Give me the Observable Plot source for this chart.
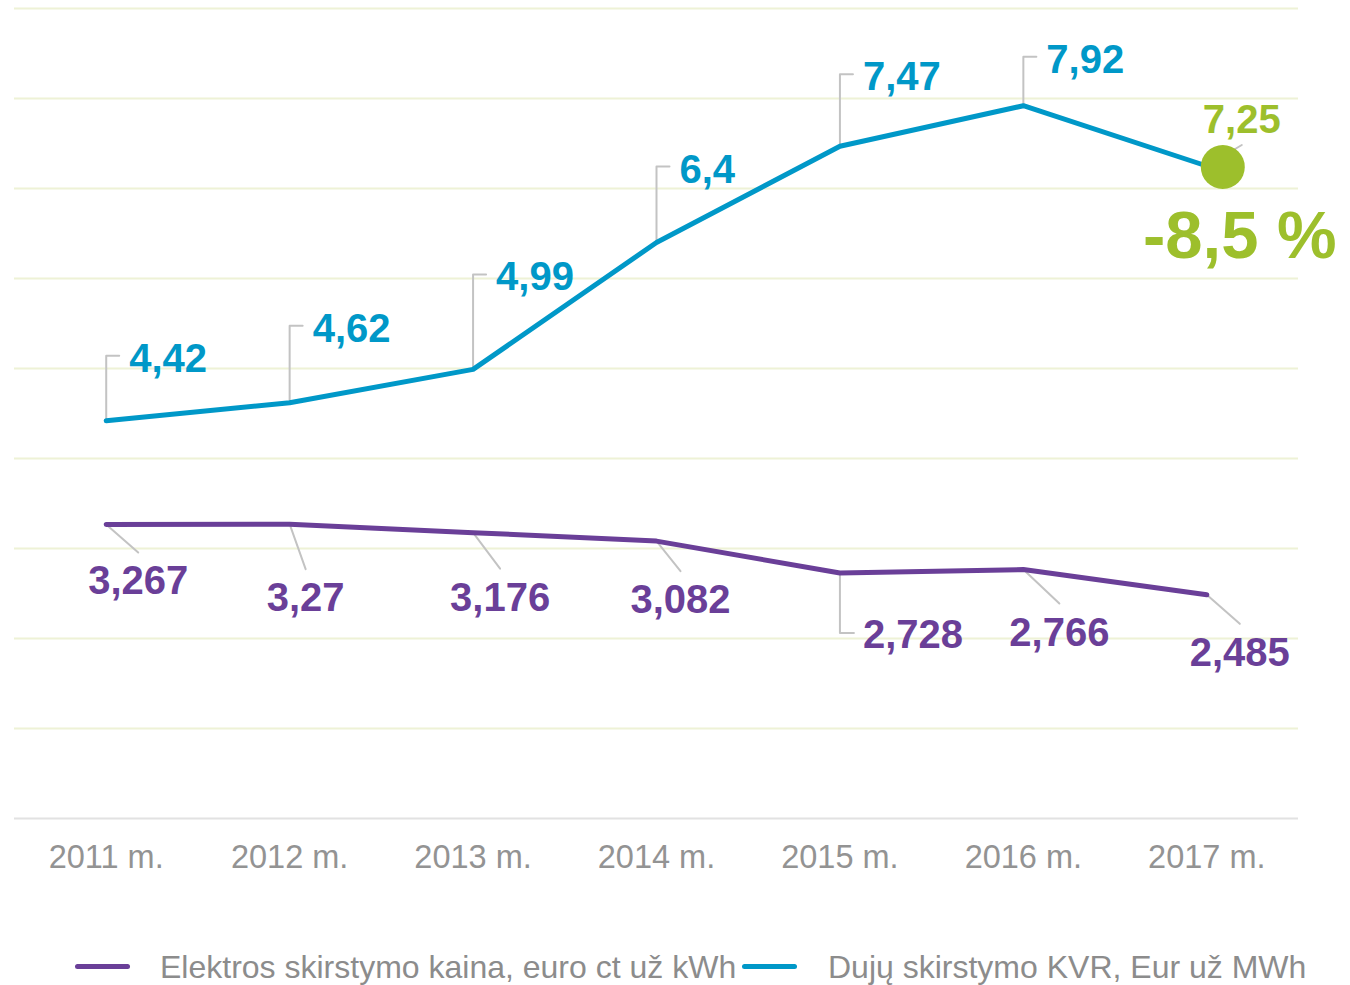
<!DOCTYPE html>
<html>
<head>
<meta charset="utf-8">
<script src="https://cdn.jsdelivr.net/npm/d3@7"></script>
<script src="https://cdn.jsdelivr.net/npm/@observablehq/plot@0.6"></script>
<style>
  html, body { margin: 0; padding: 0; background: #fff; }
  #chart { width: 1350px; }
  .legend { position: relative; width: 1350px; height: 55px; font-family: "Liberation Sans", Arial, sans-serif; }
  .legend .sw { position: absolute; top: 34px; width: 55px; height: 5px; border-radius: 3px; }
  .legend .lbl { position: absolute; top: 21px; font-size: 32px; line-height: 1; color: #8c8c8c; white-space: nowrap; }
</style>
</head>
<body>
<div id="chart"></div>
<script>
// ---- data ----
const years = [2011, 2012, 2013, 2014, 2015, 2016, 2017];
const tickLabels = ["2011 m.", "2012 m.", "2013 m.", "2014 m.", "2015 m.", "2016 m.", "2017 m."];
const gas = [4.42, 4.62, 4.99, 6.4, 7.47, 7.92, 7.25];
const gasLabels = ["4,42", "4,62", "4,99", "6,4", "7,47", "7,92", "7,25"];
const elec = [3.267, 3.27, 3.176, 3.082, 2.728, 2.766, 2.485];
const elecLabels = ["3,267", "3,27", "3,176", "3,082", "2,728", "2,766", "2,485"];
const changeLabel = "-8,5 %";
const seriesNames = ["Elektros skirstymo kaina, euro ct už kWh", "Dujų skirstymo KVR, Eur už MWh"];
const yTicks = [0, 1, 2, 3, 4, 5, 6, 7, 8, 9];

// ---- annotation layout (pixel offsets of label leaders) ----
const gasRise = [65, 77, 95, 76, 72, 49];            // vertical leader length, px
const elecLeader = [[32, 28], [16, 45], [27, 36], [24, 30], [0, 60], [36, 34], [33, 29]]; // px (right, down)
const elecElbow = [false, false, false, false, true, false, false];

// ---- style / layout ----
const W = 1350, H = 930, mL = 14, mR = 52, mT = 8, mB = 112;
const BLUE = "#0098c8", PURPLE = "#6a3f98", GREEN = "#9dbf2c", LEAD = "#c3c3c3";
const FONT = "'Liberation Sans', Arial, sans-serif";
const xDomain = [years[0] - 0.5, years[years.length - 1] + 0.5];
const yMax = yTicks[yTicks.length - 1];
const kx = (W - mL - mR) / (xDomain[1] - xDomain[0]); // px per year
const ky = (H - mT - mB) / yMax;                       // px per unit

const gasData = years.map((x, i) => ({x, y: gas[i], label: gasLabels[i]}));
const elecData = years.map((x, i) => ({x, y: elec[i], label: elecLabels[i]}));

// leader polylines (derived from data points + pixel offsets)
const leaders = [];
gasData.slice(0, gasRise.length).forEach((d, i) => {
  const top = d.y + gasRise[i] / ky;
  leaders.push({id: "g" + i, x: d.x, y: d.y}, {id: "g" + i, x: d.x, y: top}, {id: "g" + i, x: d.x + 13 / kx, y: top});
});
const gasLabelData = gasData.slice(0, gasRise.length).map((d, i) => ({x: d.x + 23 / kx, y: d.y + gasRise[i] / ky, label: d.label}));

const elecDiag = [], elecEl = [];
elecData.forEach((d, i) => {
  const [ox, oy] = elecLeader[i];
  const tip = {x: d.x + ox / kx, y: d.y - oy / ky};
  leaders.push({id: "e" + i, x: d.x, y: d.y}, {id: "e" + i, ...tip});
  if (elecElbow[i]) {
    leaders.push({id: "e" + i, x: tip.x + 14 / kx, y: tip.y});
    elecEl.push({x: tip.x + 23 / kx, y: tip.y, label: d.label});
  } else {
    elecDiag.push({x: tip.x, y: tip.y, label: d.label});
  }
});

const last = gasData[gasData.length - 1];
const lastTip = {x: last.x + 35 / kx, y: last.y + 21 / ky, label: last.label};
leaders.push({id: "gl", x: last.x, y: last.y}, {id: "gl", x: lastTip.x, y: lastTip.y});

const chart = Plot.plot({
  width: W, height: H,
  marginLeft: mL, marginRight: mR, marginTop: mT, marginBottom: mB,
  style: {fontFamily: FONT, background: "#fff"},
  x: {type: "linear", domain: xDomain, label: null},
  y: {domain: [0, yMax], axis: null},
  marks: [
    Plot.ruleY(yTicks.slice(1), {stroke: "#eef2d6", strokeWidth: 2}),
    Plot.ruleY([0], {stroke: "#e2e2e2", strokeWidth: 2}),
    Plot.axisX({ticks: years, tickFormat: d => tickLabels[years.indexOf(d)], tickSize: 0, tickPadding: 26,
      fontSize: 32.5, color: "#939393", fill: "#939393", label: null}),
    Plot.line(leaders, {x: "x", y: "y", z: "id", stroke: LEAD, strokeWidth: 2, curve: "linear"}),
    Plot.line(elecData, {x: "x", y: "y", stroke: PURPLE, strokeWidth: 5, strokeLinejoin: "round", strokeLinecap: "round"}),
    Plot.line(gasData, {x: "x", y: "y", stroke: BLUE, strokeWidth: 5, strokeLinejoin: "round", strokeLinecap: "round"}),
    Plot.dot([last], {x: "x", y: "y", r: 22, fill: GREEN, dx: 16, dy: 1}),
    Plot.text(gasLabelData, {x: "x", y: "y", text: "label", fill: BLUE, fontSize: 40, fontWeight: "bold",
      textAnchor: "start", lineAnchor: "bottom", dy: 16}),
    Plot.text(elecDiag, {x: "x", y: "y", text: "label", fill: PURPLE, fontSize: 40, fontWeight: "bold",
      textAnchor: "middle", lineAnchor: "bottom", dy: 42}),
    Plot.text(elecEl, {x: "x", y: "y", text: "label", fill: PURPLE, fontSize: 40, fontWeight: "bold",
      textAnchor: "start", lineAnchor: "bottom", dy: 15}),
    Plot.text([lastTip], {x: "x", y: "y", text: "label", fill: GREEN, fontSize: 40, fontWeight: "bold",
      textAnchor: "middle", lineAnchor: "bottom", dy: -12}),
    Plot.text([last], {x: "x", y: "y", text: () => changeLabel, fill: GREEN, fontSize: 67, fontWeight: "bold",
      textAnchor: "middle", lineAnchor: "bottom", dx: 33, dy: 92})
  ]
});
document.getElementById("chart").appendChild(chart);

// legend
const legend = document.createElement("div");
legend.className = "legend";
const items = [
  {name: seriesNames[0], color: PURPLE, sw: 75, lbl: 160},
  {name: seriesNames[1], color: BLUE, sw: 742, lbl: 828}
];
items.forEach(it => {
  const s = document.createElement("div");
  s.className = "sw"; s.style.left = it.sw + "px"; s.style.background = it.color;
  const t = document.createElement("div");
  t.className = "lbl"; t.style.left = it.lbl + "px"; t.textContent = it.name;
  legend.appendChild(s); legend.appendChild(t);
});
document.body.appendChild(legend);
</script>
</body>
</html>
